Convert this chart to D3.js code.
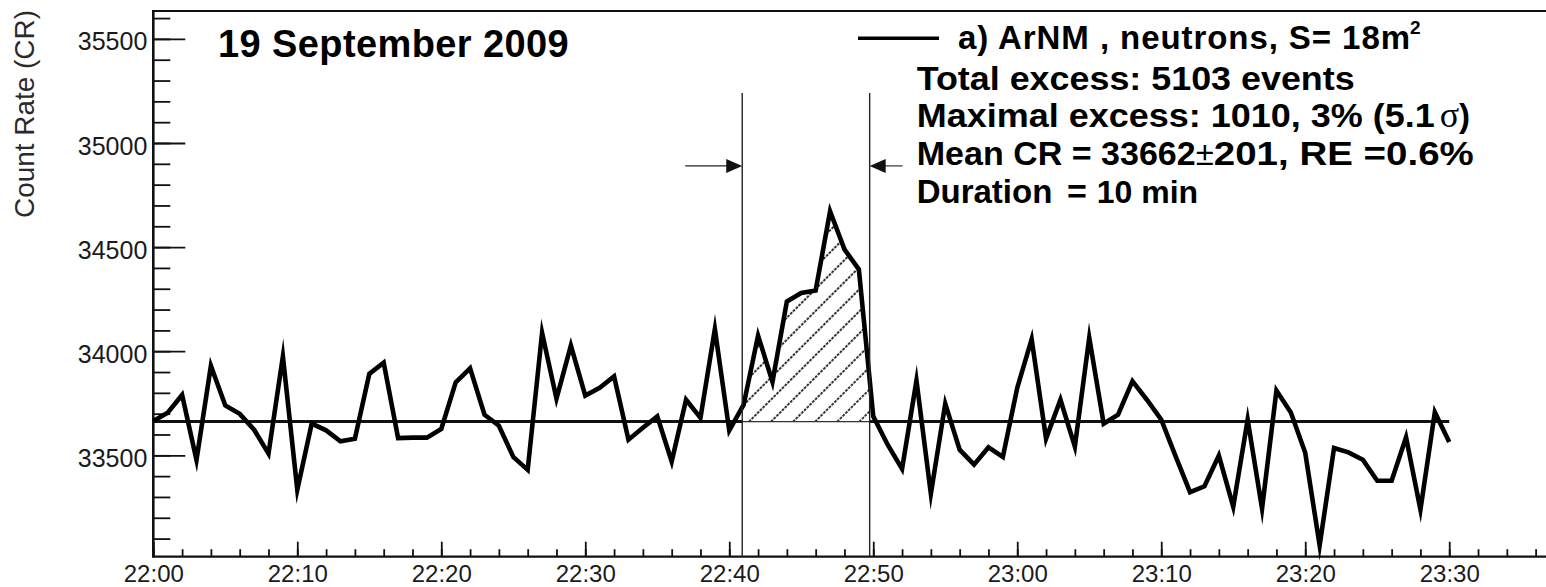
<!DOCTYPE html>
<html>
<head>
<meta charset="utf-8">
<script src="https://cdn.jsdelivr.net/npm/d3@7"></script>
<style>
  html, body { margin: 0; padding: 0; background: #fff; overflow: hidden; }
  svg { display: block; font-family: 'Liberation Sans', Arial, Helvetica, sans-serif; }
</style>
</head>
<body>
<svg id="chart" width="1546" height="587"></svg>
<script>
// ArNM neutron monitor, 1-minute count rates starting at 22:00 (19 Sep 2009)
const countRate = [
  33665, 33705, 33790, 33478, 33930, 33739, 33699, 33623, 33508, 33975,
  33335, 33652, 33620, 33567, 33580, 33891, 33945, 33583, 33585, 33585,
  33627, 33850, 33918, 33695, 33642, 33492, 33430, 34088, 33772, 34027,
  33787, 33824, 33879, 33575, 33632, 33687, 33470, 33767, 33680, 34106,
  33619, 33743, 34075, 33853, 34239, 34280, 34292, 34672, 34489, 34393,
  33687, 33551, 33435, 33859, 33315, 33748, 33527, 33455, 33538, 33492,
  33824, 34058, 33580, 33767, 33542, 34065, 33652, 33695, 33856, 33767,
  33671, 33495, 33323, 33351, 33499, 33253, 33671, 33244, 33811, 33706,
  33512, 33067, 33535, 33514, 33479, 33378, 33378, 33587, 33239, 33707,
  33564
];
const meanCR = 33662;

// Excess window boundaries (minutes after 22:00) and the level of the marker arrows
const windowMinutes = [40.9, 49.75];
const windowTopCR = 35240;
const arrowCR = 34890;

// Axis ranges and ticks
const xDomainMinutes = [0, 96.72];
const yDomain = [33013, 35634];
const xMajorMinutes = [0, 10, 20, 30, 40, 50, 60, 70, 80, 90];
const xTickLabels = ["22:00", "22:10", "22:20", "22:30", "22:40", "22:50", "23:00", "23:10", "23:20", "23:30"];
const xMinorMinutes = [0, 2, 4, 6, 8, 10, 12, 14, 16, 18, 20, 22, 24, 26, 28, 30, 32, 34, 36, 38, 40, 42, 44, 46, 48,
                       50, 52, 54, 56, 58, 60, 62, 64, 66, 68, 70, 72, 74, 76, 78, 80, 82, 84, 86, 88, 90, 92, 94, 96];
const yMajorTicks = [33500, 34000, 34500, 35000, 35500];
const yMinorTicks = [33100, 33200, 33300, 33400, 33500, 33600, 33700, 33800, 33900, 34000, 34100, 34200, 34300,
                     34400, 34500, 34600, 34700, 34800, 34900, 35000, 35100, 35200, 35300, 35400, 35500, 35600];

// Text blocks
const titleText = "19 September 2009";
const legendText = "a) ArNM , neutrons, S= 18m";
const infoLines = [
  "Total excess: 5103 events",
  "Maximal excess: 1010, 3% (5.1",
  "Mean CR = 33662",
];

const FONT = "'Liberation Sans', Arial, Helvetica, sans-serif";
const SERIF = "'Liberation Serif', 'Times New Roman', serif";
const INK = "#111";

const svg = d3.select("#chart");
const plot = { left: 153.3, right: 1546, top: 11, bottom: 556.7 };

const x = d3.scaleLinear().domain(xDomainMinutes).range([plot.left, plot.right]);
const y = d3.scaleLinear().domain(yDomain).range([plot.bottom, plot.top]);

// Hatch fill for the excess area
const defs = svg.append("defs");
const hp = defs.append("pattern")
  .attr("id", "hatch")
  .attr("patternUnits", "userSpaceOnUse")
  .attr("width", 15.6).attr("height", 15.6)
  .attr("patternTransform", "rotate(45)");
hp.append("line")
  .attr("x1", 1).attr("y1", 0).attr("x2", 1).attr("y2", 15.6)
  .attr("stroke", "#000").attr("stroke-width", 1.6)
  .attr("stroke-dasharray", "2.7 1.2");

// ---- Axes ----
const yAxisG = svg.append("g").attr("transform", `translate(${plot.left},0)`);
yAxisG.append("g")
  .call(d3.axisLeft(y).tickValues(yMinorTicks).tickSize(-17).tickFormat(""))
  .call(g => g.select(".domain").remove());
yAxisG.append("g")
  .call(d3.axisLeft(y).tickValues(yMajorTicks).tickSize(-32).tickPadding(6).tickFormat(d3.format("d")))
  .call(g => g.select(".domain").remove())
  .call(g => g.selectAll("text")
    .attr("font-size", 25).attr("font-family", FONT).attr("fill", "#1a1a1a").attr("dy", "0.44em"));
yAxisG.selectAll(".tick line").attr("stroke", INK).attr("stroke-width", 1.8);

const xAxisG = svg.append("g").attr("transform", `translate(0,${plot.bottom})`);
xAxisG.append("g")
  .call(d3.axisBottom(x).tickValues(xMinorMinutes).tickSize(-7.5).tickFormat(""))
  .call(g => g.select(".domain").remove());
xAxisG.append("g")
  .call(d3.axisBottom(x).tickValues(xMajorMinutes).tickSize(-15).tickPadding(8)
    .tickFormat((d, i) => xTickLabels[i]))
  .call(g => g.select(".domain").remove())
  .call(g => g.selectAll("text")
    .attr("font-size", 24).attr("font-family", FONT).attr("fill", "#1a1a1a").attr("dy", "0.71em"));
xAxisG.selectAll(".tick line").attr("stroke", INK).attr("stroke-width", 1.8);

// Frame lines: left axis, bottom axis, top border
svg.append("line")
  .attr("x1", plot.left).attr("x2", plot.left).attr("y1", plot.top - 1).attr("y2", plot.bottom + 1)
  .attr("stroke", INK).attr("stroke-width", 2.6);
svg.append("line")
  .attr("x1", plot.left).attr("x2", plot.right).attr("y1", plot.bottom).attr("y2", plot.bottom)
  .attr("stroke", INK).attr("stroke-width", 2.2);
svg.append("line")
  .attr("x1", plot.left).attr("x2", plot.right).attr("y1", plot.top).attr("y2", plot.top)
  .attr("stroke", INK).attr("stroke-width", 2.2);

// Y axis title
svg.append("text")
  .attr("transform", `translate(34,114) rotate(-90)`)
  .attr("text-anchor", "middle")
  .attr("font-size", 28).attr("font-family", FONT).attr("fill", "#2a2a2a")
  .attr("textLength", 208).attr("lengthAdjust", "spacingAndGlyphs")
  .text("Count Rate (CR)");

// ---- Excess window ----
const [t1, t2] = windowMinutes;
const interp = t => {
  const i = Math.floor(t), f = t - i;
  return countRate[i] + (countRate[i + 1] - countRate[i]) * f;
};
const hatchPts = [{ t: t1, v: interp(t1) }];
for (let i = Math.ceil(t1); i <= Math.floor(t2); i++) hatchPts.push({ t: i, v: countRate[i] });
hatchPts.push({ t: t2, v: interp(t2) });

svg.append("path")
  .datum(hatchPts)
  .attr("fill", "url(#hatch)")
  .attr("d", d3.area().x(d => x(d.t)).y0(y(meanCR)).y1(d => y(Math.max(d.v, meanCR))));

// Mean count-rate level: thick outside the window, thin along the window floor
const lastMinute = countRate.length - 1;
[[0, t1], [t2, lastMinute]].forEach(([a, b]) => {
  svg.append("line")
    .attr("x1", x(a)).attr("x2", x(b)).attr("y1", y(meanCR)).attr("y2", y(meanCR))
    .attr("stroke", INK).attr("stroke-width", 3);
});
svg.append("line")
  .attr("x1", x(t1)).attr("x2", x(t2)).attr("y1", y(meanCR)).attr("y2", y(meanCR))
  .attr("stroke", "#333").attr("stroke-width", 1.1);

// Count-rate time series
svg.append("path")
  .datum(countRate)
  .attr("fill", "none")
  .attr("stroke", "#000")
  .attr("stroke-width", 4.6)
  .attr("stroke-linejoin", "miter")
  .attr("stroke-miterlimit", 12)
  .attr("d", d3.line().x((d, i) => x(i)).y(d => y(d)));

// Window boundaries
windowMinutes.forEach(t => {
  svg.append("line")
    .attr("x1", x(t)).attr("x2", x(t))
    .attr("y1", y(yDomain[0])).attr("y2", y(windowTopCR))
    .attr("stroke", "#222").attr("stroke-width", 1.4);
});

// Arrows pointing at the window boundaries
function arrow(tipX, dir, shaft) {
  const ay = y(arrowCR);
  svg.append("line")
    .attr("x1", tipX - dir * shaft).attr("x2", tipX - dir * 14)
    .attr("y1", ay).attr("y2", ay)
    .attr("stroke", "#222").attr("stroke-width", 1.1);
  svg.append("path")
    .attr("d", `M${tipX},${ay} L${tipX - dir * 16},${ay - 7} L${tipX - dir * 16},${ay + 7} Z`)
    .attr("fill", INK);
}
arrow(x(t1), 1, 57);
arrow(x(t2), -1, 33);

// ---- Title ----
svg.append("text")
  .attr("x", 218).attr("y", 56.7)
  .attr("font-size", 38).attr("font-weight", "bold").attr("font-family", FONT)
  .attr("letter-spacing", 0.4).attr("fill", "#000")
  .text(titleText);

// ---- Legend ----
const leg = svg.append("g").attr("font-family", FONT).attr("font-weight", "bold").attr("fill", "#000");
leg.append("line")
  .attr("x1", 858).attr("x2", 939).attr("y1", 38.3).attr("y2", 38.3)
  .attr("stroke", "#000").attr("stroke-width", 3.5);
leg.append("text")
  .attr("x", 958).attr("y", 49.3).attr("font-size", 33)
  .attr("textLength", 452).attr("lengthAdjust", "spacing")
  .text(legendText);
leg.append("text").attr("x", 1410).attr("y", 33.5).attr("font-size", 19).text("2");

// Statistics block
const info = svg.append("g").attr("font-family", FONT).attr("font-weight", "bold").attr("fill", "#000").attr("font-size", 33);
info.append("text").attr("x", 916.7).attr("y", 90)
  .attr("textLength", 438).attr("lengthAdjust", "spacingAndGlyphs")
  .text(infoLines[0]);

const l2 = info.append("text").attr("x", 916.7).attr("y", 127.3);
l2.append("tspan").attr("textLength", 518).attr("lengthAdjust", "spacingAndGlyphs").text(infoLines[1]);
l2.append("tspan").attr("font-family", SERIF).attr("font-weight", "normal").attr("font-size", 36).attr("dx", 5).text("σ");
l2.append("tspan").text(")");

const l3 = info.append("text").attr("x", 916.7).attr("y", 165);
l3.append("tspan").attr("textLength", 279).attr("lengthAdjust", "spacingAndGlyphs").text(infoLines[2]);
l3.append("tspan").attr("font-weight", "normal").text("±");
l3.append("tspan").attr("textLength", 260).attr("lengthAdjust", "spacingAndGlyphs").text("201, RE =0.6%");

const l4 = svg.append("g").attr("font-family", FONT).attr("font-weight", "bold").attr("fill", "#000").attr("font-size", 33);
l4.append("text").attr("x", 916.7).attr("y", 203.3).text("Duration");
l4.append("text").attr("x", 1067).attr("y", 203.3).attr("font-size", 34).text("=");
l4.append("text").attr("x", 1096.7).attr("y", 203.3).attr("font-size", 32).text("10 min");
</script>
</body>
</html>
